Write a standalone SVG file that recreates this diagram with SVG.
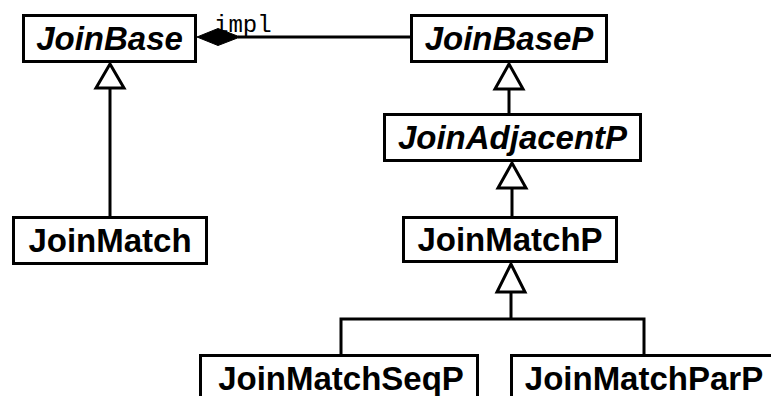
<svg xmlns="http://www.w3.org/2000/svg" width="771" height="396" viewBox="0 0 771 396">
  <style>
    .box { fill: #ffffff; stroke: #000000; stroke-width: 3; }
    .name { font-family: "Liberation Sans", Arial, Helvetica, sans-serif; font-weight: bold; font-size: 33px; fill: #000000; text-anchor: middle; }
    .abstract { font-style: italic; }
    .edge { fill: none; stroke: #000000; stroke-width: 3; }
    .gen { fill: #ffffff; stroke: #000000; stroke-width: 3; stroke-linejoin: miter; }
    .comp { fill: #000000; stroke: #000000; stroke-width: 1; }
    .role { font-family: "Liberation Mono", "Courier New", monospace; font-size: 24px; fill: #000000; }
  </style>
  <rect width="771" height="396" fill="#ffffff"/>

  <g id="connectors">
    <!-- composition: JoinBaseP owns impl (JoinBase) -->
    <line class="edge" x1="238" y1="37" x2="411" y2="37"/>
    <polygon class="comp" points="197,37 218,28.5 240,37 218,45.5"/>
    <text class="role" x="214" y="32">impl</text>

    <!-- JoinMatch -> JoinBase -->
    <line class="edge" x1="110" y1="88" x2="110" y2="217"/>
    <polygon class="gen" points="110,64 96,88 124,88"/>

    <!-- JoinAdjacentP -> JoinBaseP -->
    <line class="edge" x1="509" y1="89" x2="509" y2="114"/>
    <polygon class="gen" points="509,64 495,89 523,89"/>

    <!-- JoinMatchP -> JoinAdjacentP -->
    <line class="edge" x1="512" y1="188" x2="512" y2="217"/>
    <polygon class="gen" points="512,163 498,188 526,188"/>

    <!-- JoinMatchSeqP / JoinMatchParP -> JoinMatchP -->
    <polyline class="edge" points="341,355 341,319 644,319 644,355"/>
    <line class="edge" x1="511" y1="292" x2="511" y2="319"/>
    <polygon class="gen" points="511,264 497,292 525,292"/>
  </g>

  <g id="JoinBase">
    <rect class="box" x="23.5" y="15.5" width="172" height="46"/>
    <text class="name abstract" x="109.5" y="50">JoinBase</text>
  </g>

  <g id="JoinBaseP">
    <rect class="box" x="411.5" y="15.5" width="195" height="46"/>
    <text class="name abstract" x="509" y="50">JoinBaseP</text>
  </g>

  <g id="JoinAdjacentP">
    <rect class="box" x="384.5" y="114.5" width="256" height="46"/>
    <text class="name abstract" x="512.5" y="149">JoinAdjacentP</text>
  </g>

  <g id="JoinMatch">
    <rect class="box" x="13.5" y="217.5" width="193" height="46"/>
    <text class="name" x="110" y="252">JoinMatch</text>
  </g>

  <g id="JoinMatchP">
    <rect class="box" x="403.5" y="217.5" width="213" height="44"/>
    <text class="name" x="510" y="251">JoinMatchP</text>
  </g>

  <g id="JoinMatchSeqP">
    <rect class="box" x="200.5" y="355.5" width="277" height="46"/>
    <text class="name" x="341" y="390">JoinMatchSeqP</text>
  </g>

  <g id="JoinMatchParP">
    <rect class="box" x="511.5" y="355.5" width="270" height="46"/>
    <text class="name" x="644" y="390">JoinMatchParP</text>
  </g>
</svg>
